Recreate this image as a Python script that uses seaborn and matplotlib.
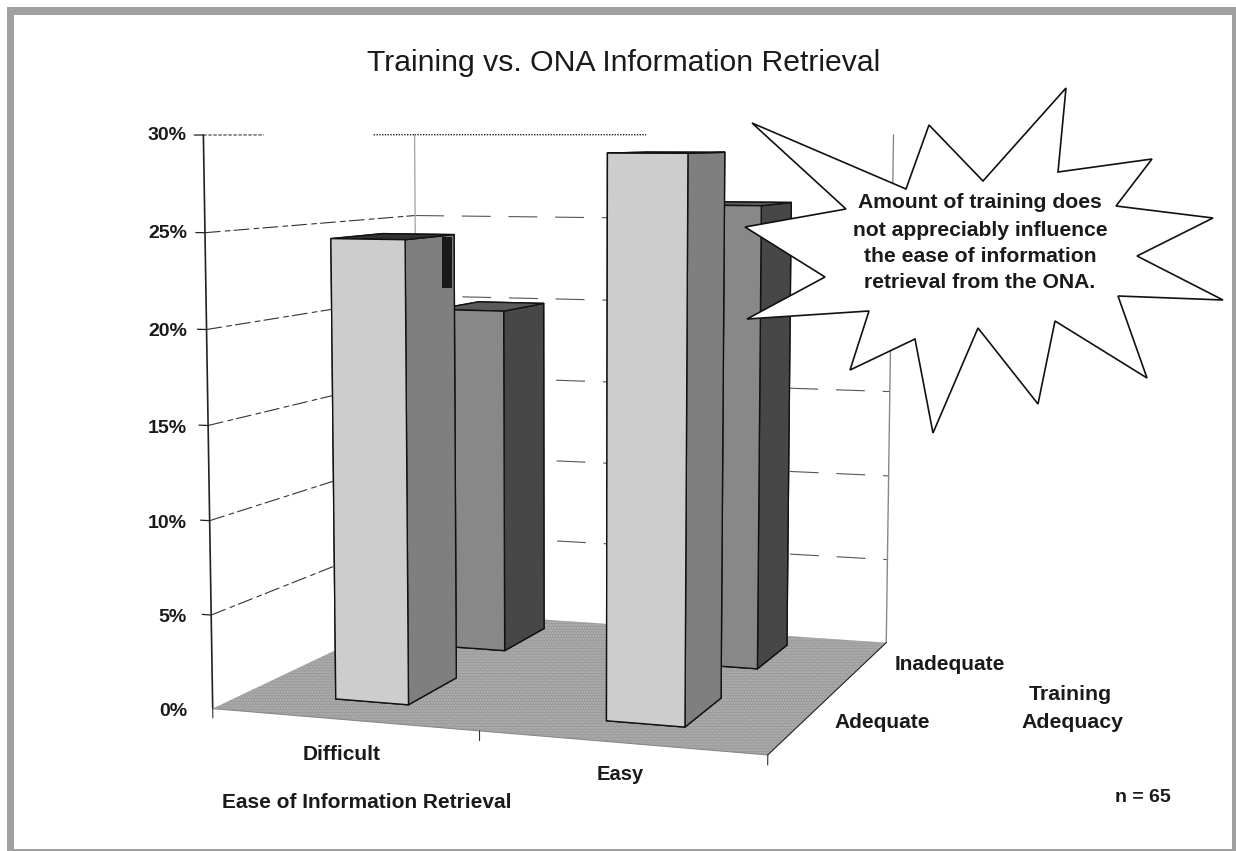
import pandas as pd
import matplotlib
matplotlib.use("Agg")
import matplotlib.pyplot as plt
import seaborn as sns
from mpl_toolkits.mplot3d.art3d import Poly3DCollection
from matplotlib.patches import Polygon, Rectangle

# values (percent of respondents)
ease = ["Difficult", "Easy"]
training = ["Adequate", "Inadequate"]
adequate_pct = [24.6, 29.1]
inadequate_pct = [19.9, 26.1]
z_ticks = [0, 5, 10, 15, 20, 25, 30]
z_label_y = [712, 618, 523, 428, 331, 233, 135]
callout = ["Amount of training does", "not appreciably influence",
           "the ease of information", "retrieval from the ONA."]
star_x = [752, 906, 929, 983, 1066, 1058, 1152, 1116, 1213, 1137, 1223, 1118,
          1147, 1055, 1038, 978, 933, 915, 850, 869, 747, 825, 745, 846]
star_y = [123, 189, 125, 181, 88, 172, 159, 206, 218, 256, 300, 296,
          378, 321, 404, 328, 433, 339, 370, 311, 319, 277, 227, 209]

sns.set_theme(style="white")
plt.rcParams["font.family"] = ["Liberation Sans", "DejaVu Sans"]

W, H = 1236, 851
S = 1100
fig = plt.figure(figsize=(W / 100, H / 100), dpi=100)
ax = fig.add_subplot(projection="3d", computed_zorder=False)
ax.set_xlim(0, 2)
ax.set_ylim(0, 2)
ax.set_zlim(0, 30)
ax.set_axis_off()
ax.set_position([5.068 / W, -121.383 / H, S / W, S / H])
ax.set_proj_type("persp", focal_length=0.416)
ax.view_init(elev=6.332, azim=-71.06)
ax.set_box_aspect((1.002, 0.941, 1), zoom=0.813)

df = pd.DataFrame({
    "ease": ease * 2,
    "training": [training[0]] * 2 + [training[1]] * 2,
    "pct": adequate_pct + inadequate_pct,
})

front = sns.color_palette(["#cdcdcd", "#888888"])
side = sns.color_palette(["#7f7f7f", "#474747"])
top = sns.color_palette(["#333333", "#5a5a5a"])

# bar footprint on the floor
x_pos = [0.486, 1.5]
y_pos = [0.538, 1.571]
bar_w = 0.28
bar_d = 0.488

# walls and floor
floor = Poly3DCollection([[(0, 0, 0), (2, 0, 0), (2, 2, 0), (0, 2, 0)]],
                         facecolor="#9a9a9a", edgecolor="#b6b6b6", linewidth=0,
                         hatch="......", zorder=1)
ax.add_collection3d(floor)
for z in z_ticks[1:-1]:
    ax.plot([0, 0], [0, 2], [z, z], color="#333333", lw=0.8, ls=(0, (14, 4, 5, 3)), zorder=0)
    ax.plot([0, 2], [2, 2], [z, z], color="#555555", lw=0.8, ls=(0, (26, 16)), zorder=0)
for z in z_ticks[1:]:
    ax.plot([0, -0.035], [0, 0], [z, z], color="#222222", lw=0.9, zorder=0)
ax.plot([0, 0], [0, 0.5], [30, 30], color="#333333", lw=0.8, ls=(0, (3, 1.5)), zorder=0)
ax.plot([0, 0], [1.55, 2], [30, 30], color="#222222", lw=1, ls=(0, (1, 1)), zorder=0)
ax.plot([0, 1], [2, 2], [30, 30], color="#222222", lw=1, ls=(0, (1, 1)), zorder=0)
ax.plot([0, 0], [2, 2], [0, 30], color="#aaaaaa", lw=1, zorder=0)
ax.plot([2, 2], [2, 2], [0, 30], color="#888888", lw=1, zorder=0)
ax.plot([0, 0], [0, 0], [0, 30], color="#222222", lw=1.2, zorder=0.5)
ax.plot([0, 2], [0, 0], [0, 0], color="#888888", lw=0.8, zorder=1.5)
ax.plot([2, 2], [0, 2], [0, 0], color="#222222", lw=0.8, zorder=1.5)
for x in (0, 1, 2):
    ax.plot([x, x], [0, 0], [0, -0.5], color="#333333", lw=0.8, zorder=1.5)

# back row first so the front row covers it
order = 2
for j in (1, 0):
    sub = df[df["training"] == training[j]]
    for i, v in enumerate(sub["pct"]):
        ax.bar3d(x_pos[i] - bar_w / 2, y_pos[j] - bar_d / 2, 0, bar_w, bar_d, v,
                 color=[front[j], top[j], front[j], front[j], side[j], side[j]],
                 edgecolor="#111111", linewidth=1.0, shade=False, zorder=order)
        order += 1


def px_rect(x, y, w, h, color, zorder=4):
    fig.add_artist(Rectangle((x / W, 1 - (y + h) / H), w / W, h / H,
                             transform=fig.transFigure, color=color, lw=0, zorder=zorder))


# picture frame
for x, y, w, h in [(7, 7, W - 7, 8), (7, 7, 7, H - 7), (1232, 7, 4, H - 7), (7, 849, W - 7, 2)]:
    px_rect(x, y, w, h, "#a0a0a0")
# black block on the side of the first bar
px_rect(442, 237, 10, 51, "#1a1a1a", zorder=3)

fig.add_artist(Polygon([(a / W, 1 - b / H) for a, b in zip(star_x, star_y)], closed=True,
                       transform=fig.transFigure, facecolor="white", edgecolor="#111111",
                       lw=1.2, zorder=5))


def label(x, y, s, size=15, weight="bold", ha="center"):
    fig.text(x / W, 1 - y / H, s, fontsize=size, fontweight=weight, ha=ha, va="center",
             color="#1a1a1a", zorder=6)


label(624, 63, "Training vs. ONA Information Retrieval", size=21.7, weight="normal")
for z, y in zip(z_ticks, z_label_y):
    label(187, y, f"{z}%", size=14, ha="right")
label(342, 755, ease[0])
label(620, 775, ease[1], size=14.5)
label(882, 722, training[0])
label(950, 665, training[1], size=15)
label(1070, 695, "Training", size=15.3)
label(1072, 722, "Adequacy", size=15.3)
label(222, 802, "Ease of Information Retrieval", size=15, ha="left")
label(1143, 797, "n = 65", size=14)
for y, s in zip([203, 230, 257, 283], callout):
    label(980, y, s, size=15.2)

fig.savefig("out.png", dpi=100)
